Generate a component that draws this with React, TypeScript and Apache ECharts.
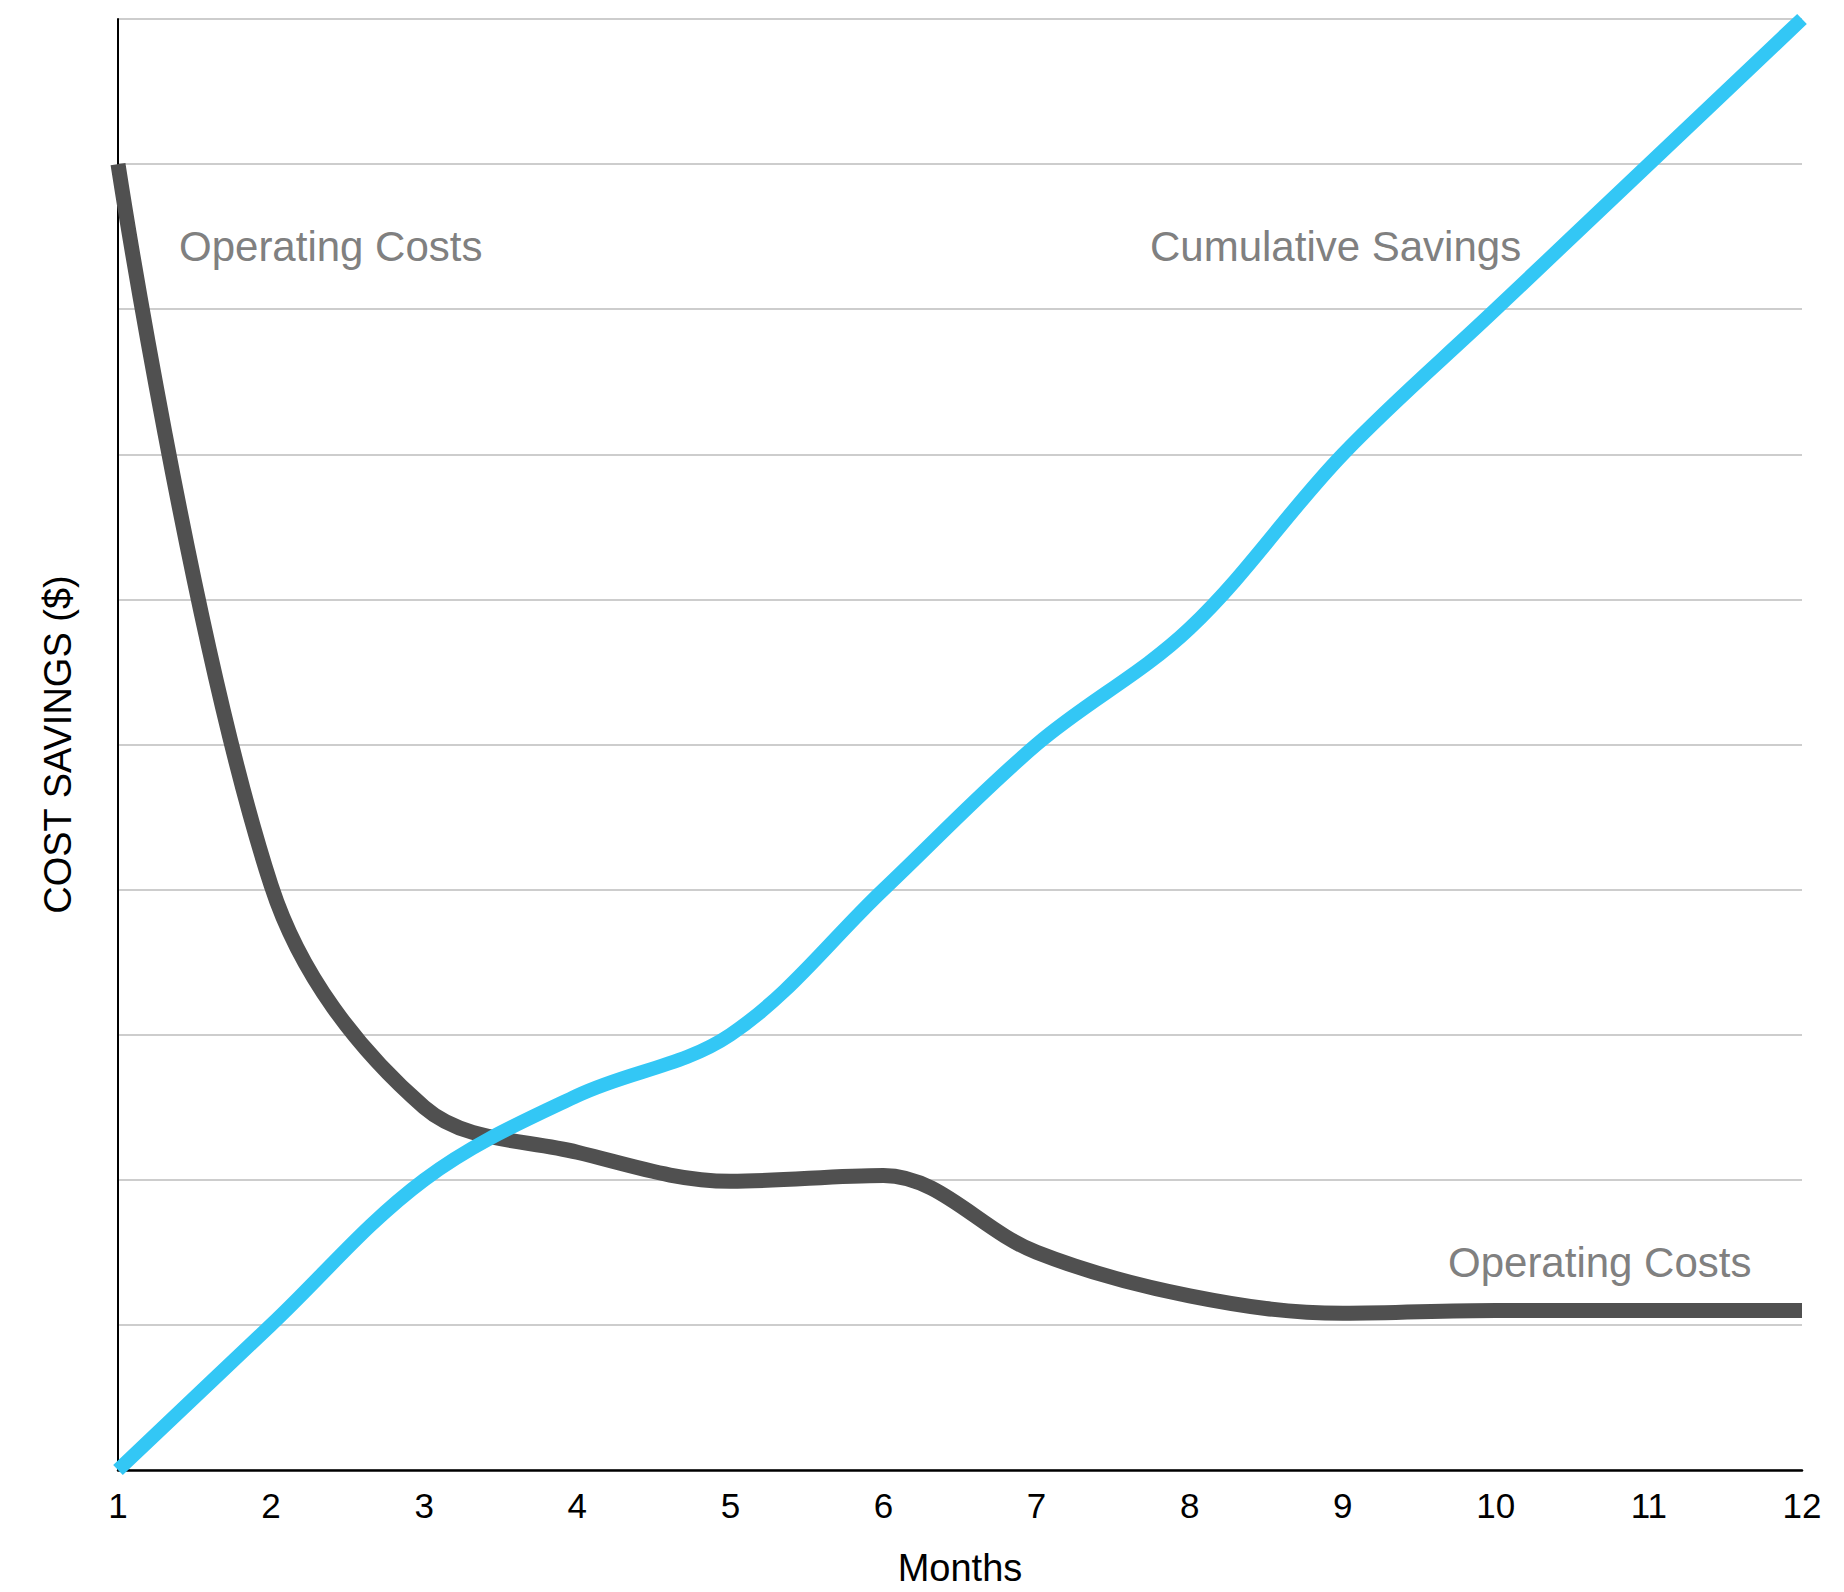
import React, { useEffect, useRef } from "react";
import * as echarts from "echarts";

const months = ["1", "2", "3", "4", "5", "6", "7", "8", "9", "10", "11", "12"];
const operatingCosts = [9.0, 4.03, 2.5, 2.19, 1.99, 2.03, 1.5, 1.2, 1.08, 1.1, 1.1, 1.1];
const cumulativeSavings = [0, 1.0, 2.0, 2.58, 3.0, 4.0, 5.0, 5.8, 7.0, 8.0, 9.0, 10.0];

const FONT = "'Liberation Sans', Arial, Helvetica, sans-serif";

export default function App() {
  const ref = useRef<HTMLDivElement>(null);
  useEffect(() => {
    document.body.style.margin = "0";
    const chart = echarts.init(ref.current!, null, { renderer: "svg" });
    chart.setOption({
      animation: false,
      backgroundColor: "#ffffff",
      grid: { left: 118, right: 42, top: 19, bottom: 116 },
      xAxis: {
        type: "category",
        data: months,
        boundaryGap: false,
        name: "Months",
        nameLocation: "middle",
        nameGap: 79,
        nameTextStyle: { fontSize: 38, color: "#000", fontFamily: FONT },
        axisLine: { lineStyle: { color: "#000", width: 2.5 } },
        axisTick: { show: false },
        axisLabel: { fontSize: 35, color: "#000", fontFamily: FONT, margin: 18 },
        splitLine: { show: false },
      },
      yAxis: {
        type: "value",
        min: 0,
        max: 10,
        interval: 1,
        name: "COST SAVINGS ($)",
        nameLocation: "middle",
        nameGap: 41,
        nameTextStyle: { fontSize: 38, color: "#000", fontFamily: FONT },
        axisLine: { show: true, lineStyle: { color: "#000", width: 2 } },
        axisTick: { show: false },
        axisLabel: { show: false },
        splitLine: { show: true, lineStyle: { color: "#bdbdbd", width: 1.5 } },
      },
      series: [
        {
          name: "Operating Costs",
          type: "line",
          data: operatingCosts,
          smooth: 0.35,
          showSymbol: false,
          symbol: "none",
          lineStyle: { color: "#505050", width: 15 },
          z: 2,
        },
        {
          name: "Cumulative Savings",
          type: "line",
          data: cumulativeSavings,
          smooth: 0.35,
          showSymbol: false,
          symbol: "none",
          lineStyle: { color: "#33c7f5", width: 14 },
          z: 3,
        },
      ],
      graphic: [
        {
          type: "text",
          left: 179,
          top: 246 - 21,
          style: { text: "Operating Costs", fontSize: 42, fill: "#808080", fontFamily: FONT },
        },
        {
          type: "text",
          left: 1150,
          top: 246 - 21,
          style: { text: "Cumulative Savings", fontSize: 42, fill: "#808080", fontFamily: FONT },
        },
        {
          type: "text",
          left: 1448,
          top: 1262 - 21,
          style: { text: "Operating Costs", fontSize: 42, fill: "#808080", fontFamily: FONT },
        },
      ],
    });
    return () => chart.dispose();
  }, []);
  return <div ref={ref} style={{ width: 1844, height: 1592 }} />;
}
